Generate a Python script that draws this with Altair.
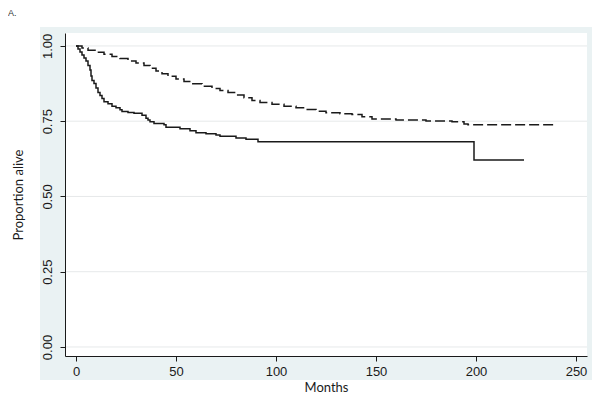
import altair as alt
import pandas as pd

# Kaplan-Meier estimates
solid_months = [0, 1, 2, 3, 4, 5, 6, 7, 7.5, 8, 9, 10, 11, 12, 13, 14, 16, 18, 20, 22, 23, 26, 29, 33,
                35, 36, 37, 39, 44, 45, 52, 57, 60, 65, 70, 72, 80, 85, 91, 199, 224]
solid_surv = [1.0, 0.99, 0.98, 0.97, 0.96, 0.95, 0.935, 0.92, 0.90, 0.885, 0.875, 0.86, 0.845, 0.835,
              0.825, 0.815, 0.808, 0.80, 0.795, 0.788, 0.782, 0.779, 0.776, 0.77, 0.76, 0.754, 0.748,
              0.742, 0.738, 0.730, 0.725, 0.718, 0.712, 0.708, 0.704, 0.700, 0.694, 0.690, 0.682,
              0.621, 0.621]

dashed_months = [0, 3, 6, 10, 14, 18, 22, 26, 30, 34, 37, 40, 43, 46, 50, 54, 58, 63, 68, 72, 76, 80,
                 84, 88, 92, 98, 104, 110, 115, 120, 125, 132, 138, 143, 148, 160, 175, 188, 194, 196, 240]
dashed_surv = [1.0, 0.993, 0.986, 0.979, 0.972, 0.965, 0.958, 0.950, 0.943, 0.935, 0.926, 0.917, 0.908,
               0.899, 0.890, 0.882, 0.874, 0.866, 0.859, 0.852, 0.845, 0.837, 0.828, 0.819, 0.812,
               0.806, 0.800, 0.795, 0.789, 0.783, 0.778, 0.775, 0.772, 0.765, 0.757, 0.754, 0.751,
               0.748, 0.741, 0.738, 0.738]

x_ticks = [0, 50, 100, 150, 200, 250]
y_ticks = [0.0, 0.25, 0.50, 0.75, 1.0]

panel_title = "A."
x_title = "Months"
y_title = "Proportion alive"

W, H = 522, 323
BG = "#EAF2F3"
INK = "#1a1a1a"

solid_df = pd.DataFrame({"months": solid_months, "surv": solid_surv})
dashed_df = pd.DataFrame({"months": dashed_months, "surv": dashed_surv})
grid_df = pd.DataFrame({"y": y_ticks})
one = pd.DataFrame({"a": [0]})

xscale = alt.Scale(domain=[-5.5, 255.5], nice=False, zero=False)
yscale = alt.Scale(domain=[-0.03, 1.043], nice=False, zero=False)

xaxis = alt.Axis(values=x_ticks, title=x_title, grid=False, zindex=1,
                 domainColor=INK, tickColor=INK, tickSize=5, labelPadding=4,
                 labelFont="Liberation Sans", labelFontSize=13, labelColor=INK,
                 titleFont="Lato", titleFontSize=13, titleFontWeight="normal", titleColor=INK,
                 titleX=W / 2, titleY=31, titleBaseline="middle", titleAlign="center")
yaxis = alt.Axis(values=y_ticks, format=".2f", title=y_title, grid=False, zindex=1,
                 domainColor=INK, tickColor=INK, tickSize=5, labelPadding=9,
                 labelAngle=270, labelAlign="center", labelBaseline="alphabetic",
                 labelFont="Liberation Sans", labelFontSize=13, labelColor=INK,
                 titleFont="Lato", titleFontSize=13, titleFontWeight="normal", titleColor=INK,
                 titleAngle=270, titleX=-47, titleY=H / 2, titleBaseline="middle", titleAlign="center")

outer = alt.Chart(one).mark_rect(color=BG).encode(
    x=alt.value(-25), x2=alt.value(W + 10), y=alt.value(-6), y2=alt.value(H + 24))
inner = alt.Chart(one).mark_rect(color="white").encode(
    x=alt.value(0), x2=alt.value(W), y=alt.value(0), y2=alt.value(H))
grid = alt.Chart(grid_df).mark_rule(color="#E6E9EA", strokeWidth=1).encode(
    y=alt.Y("y:Q", scale=yscale, axis=yaxis), x=alt.value(0), x2=alt.value(W))

dashed = alt.Chart(dashed_df).mark_line(interpolate="step-after", color=INK, strokeWidth=1.5,
                                        strokeDash=[10, 4]).encode(
    x=alt.X("months:Q", scale=xscale, axis=xaxis),
    y=alt.Y("surv:Q", scale=yscale, axis=yaxis))
solid = alt.Chart(solid_df).mark_line(interpolate="step-after", color=INK, strokeWidth=1.5).encode(
    x=alt.X("months:Q", scale=xscale, axis=xaxis),
    y=alt.Y("surv:Q", scale=yscale, axis=yaxis))

label = alt.Chart(one).mark_text(text=panel_title, font="Liberation Sans", fontSize=9, color="#333",
                                 align="left", baseline="top").encode(
    x=alt.value(-57), y=alt.value(-24))

chart = alt.layer(outer, inner, grid, dashed, solid, label).properties(
    width=W, height=H,
    autosize=alt.AutoSizeParams(type="none"),
    padding={"left": 57, "top": 25, "right": 5, "bottom": 39},
).configure_view(stroke=None, fill=None).configure(background="white")

chart.save("out.html", embed_options={"renderer": "svg", "actions": False})
